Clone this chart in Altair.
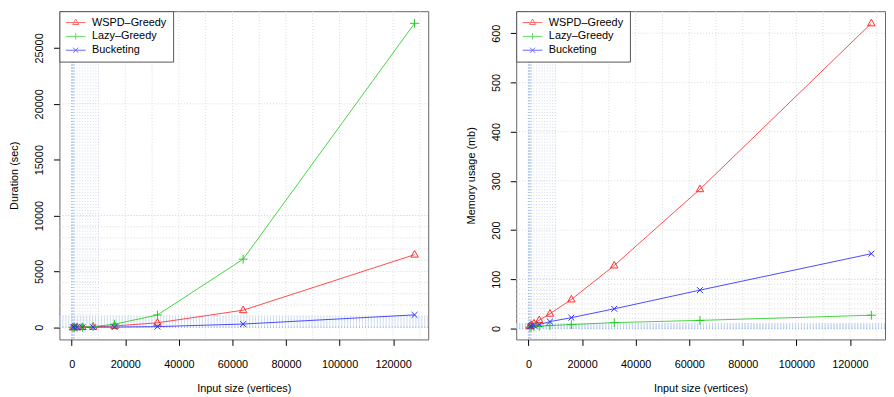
import altair as alt
import pandas as pd

# ---------------- data ----------------
sizes = [500, 1000, 2000, 4000, 8000, 16000, 32000, 64000, 128000]
series_names = ["WSPD–Greedy", "Lazy–Greedy", "Bucketing"]

dur_wspd = [0.5, 2, 6, 15, 40, 120, 400, 1530, 6500]
dur_lazy = [0.3, 1, 4, 12, 60, 280, 1100, 6100, 27200]
dur_bucket = [0.1, 0.3, 1, 3, 8, 20, 60, 290, 1110]

mem_wspd = [5, 7, 10, 17, 30, 59, 128, 283, 620]
mem_lazy = [2.5, 3, 3.5, 4.5, 6, 8, 12, 16.5, 27]
mem_bucket = [4, 5, 6, 8, 14, 22, 40, 78, 152]

x_ticks = [0, 20000, 40000, 60000, 80000, 100000, 120000]
dur_ticks = [0, 5000, 10000, 15000, 20000, 25000]
mem_ticks = [0, 100, 200, 300, 400, 500, 600]

# background grid positions
x_fine = list(range(0, 1001, 100))
x_minor = list(range(1000, 10001, 1000))
x_major = list(range(10000, 130001, 10000))
dur_fine = list(range(0, 1001, 100))
dur_minor = list(range(1000, 10001, 1000))
dur_major = [10000, 20000]
mem_fine = list(range(0, 11, 1))
mem_minor = list(range(10, 101, 10))
mem_major = list(range(100, 601, 100))

# ---------------- styles ----------------
line_colors = ["#ff2b2b", "#22cc22", "#2b2bff"]
marker_paths = [
    "M0,-1L0.9,0.6L-0.9,0.6Z",
    "M-1,0L1,0M0,-1L0,1",
    "M-0.8,-0.8L0.8,0.8M-0.8,0.8L0.8,-0.8",
]
legend_paths = [
    "M-1,0L1,0M0,-0.36L0.31,0.2L-0.31,0.2Z",
    "M-1,0L1,0M0,-0.32L0,0.32",
    "M-1,0L1,0M-0.26,-0.26L0.26,0.26M-0.26,0.26L0.26,-0.26",
]
marker_sizes = [70, 80, 55]
FONT = "Liberation Sans"
W, H = 373, 332
X_DOMAIN = [-4600, 133100]


def long_frame(vals):
    rows = []
    for name, series in zip(series_names, vals):
        for n, v in zip(sizes, series):
            rows.append({"n": n, "value": v, "series": name})
    return pd.DataFrame(rows)


def panel(vals, y_domain, y_ticks, y_title, y_fine, y_minor, y_major):
    df = long_frame(vals)
    xs = alt.Scale(domain=X_DOMAIN, nice=False, zero=False)
    ys = alt.Scale(domain=y_domain, nice=False, zero=False)
    x_axis = alt.Axis(
        values=x_ticks, format="d", title="Input size (vertices)",
        tickSize=6, labelPadding=13, titlePadding=14, labelFlush=False,
    )
    y_axis = alt.Axis(
        values=y_ticks, format="d", title=y_title, labelAngle=-90,
        labelAlign="center", labelBaseline="bottom",
        tickSize=6, labelPadding=9, titlePadding=14, labelFlush=False,
    )

    def X(field):
        return alt.X(field, scale=xs, axis=x_axis)

    def Y(field):
        return alt.Y(field, scale=ys, axis=y_axis)

    def vrules(pos, color, width=1, dash=(1, 2)):
        return alt.Chart(pd.DataFrame({"p": pos})).mark_rule(
            color=color, strokeWidth=width, strokeDash=list(dash), clip=True
        ).encode(x=X("p:Q"))

    def hrules(pos, color, width=1, dash=(1, 2)):
        return alt.Chart(pd.DataFrame({"p": pos})).mark_rule(
            color=color, strokeWidth=width, strokeDash=list(dash), clip=True
        ).encode(y=Y("p:Q"))

    layers = [
        vrules(x_major, "#dadada"),
        hrules(y_major, "#dadada"),
        vrules(x_minor, "#d2dcea"),
        hrules(y_minor, "#d8d8d8"),
        vrules(x_fine, "#c4d6ef"),
        hrules(y_fine, "#c4d6ef"),
        vrules([0], "#9fbfe9", 1.5),
        hrules([0], "#9fbfe9", 1.5),
    ]

    base = alt.Chart(df)
    for name, col in zip(series_names, line_colors):
        layers.append(
            base.transform_filter(alt.datum.series == name)
            .mark_line(strokeWidth=1, opacity=0.85, color=col, clip=True)
            .encode(x=X("n:Q"), y=Y("value:Q"))
        )

    for name, col, path, sz in zip(series_names, line_colors, marker_paths, marker_sizes):
        layers.append(
            base.transform_filter(alt.datum.series == name)
            .mark_point(shape=path, filled=False, size=sz, strokeWidth=1,
                        color=col, opacity=1, clip=True)
            .encode(x=X("n:Q"), y=Y("value:Q"))
        )

    leg = alt.Legend(
        title=None, orient="top-left", offset=0, padding=6,
        strokeColor="#555555", fillColor="white", cornerRadius=0,
        labelFont=FONT, labelFontSize=11, labelColor="black",
        symbolSize=400, symbolStrokeWidth=1, clipHeight=11,
        rowPadding=2, labelOffset=6,
    )
    legend_layer = base.mark_point(filled=False, size=0, strokeWidth=1).encode(
        x=X("n:Q"),
        y=Y("value:Q"),
        color=alt.Color("series:N", scale=alt.Scale(domain=series_names, range=line_colors), legend=leg),
        shape=alt.Shape("series:N", scale=alt.Scale(domain=series_names, range=legend_paths), legend=leg),
    )
    layers.append(legend_layer)

    return alt.layer(*layers).properties(width=W, height=H)


left = panel(
    [dur_wspd, dur_lazy, dur_bucket], [-1087, 28288], dur_ticks, "Duration (sec)",
    dur_fine, dur_minor, dur_major,
)
right = panel(
    [mem_wspd, mem_lazy, mem_bucket], [-22.2, 644.7], mem_ticks, "Memory usage (mb)",
    mem_fine, mem_minor, mem_major,
)

chart = (
    alt.hconcat(left, right, spacing=36)
    .resolve_scale(color="independent", shape="independent")
    .resolve_legend(color="independent", shape="independent")
    .properties(padding=0, background="white")
    .configure_axis(
        labelFont=FONT, titleFont=FONT, labelFontSize=11, titleFontSize=11,
        titleFontWeight="normal", labelColor="black", titleColor="black",
        tickColor="black", tickWidth=1, domain=False, grid=False,
    )
    .configure_view(stroke="#666666", strokeWidth=1)
)

chart.save("out.html", embed_options={"renderer": "svg", "actions": False})
